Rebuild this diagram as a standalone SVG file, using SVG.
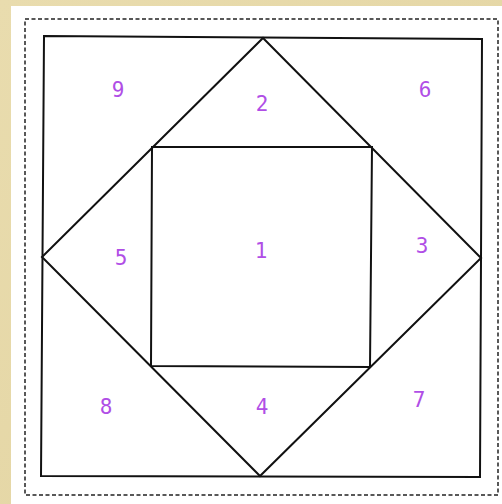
<svg xmlns="http://www.w3.org/2000/svg" width="502" height="504" viewBox="0 0 502 504">
<style>
.ln{fill:none;stroke:#111;stroke-width:2;stroke-linejoin:miter}
.lb{font-family:"DejaVu Sans Mono",monospace;font-size:21px;fill:#b04ee6;text-anchor:middle}
</style>
<defs>
<linearGradient id="bg" x1="0" y1="0" x2="1" y2="1">
<stop offset="0" stop-color="#e9dcae"/>
<stop offset="1" stop-color="#e2d3a0"/>
</linearGradient>
</defs>
<rect x="0" y="0" width="502" height="504" fill="url(#bg)"/>
<rect x="11" y="6" width="491" height="498" fill="#fff"/>
<rect x="25" y="19" width="473" height="476" fill="none" stroke="#222" stroke-width="1.5" stroke-dasharray="4,2.5"/>
<g id="outer"><polygon class="ln" points="44,36 482,39 480,477 41,476"/></g>
<g id="diamond"><polygon class="ln" points="263,38 481,258 260,476 42,257"/></g>
<g id="inner"><polygon class="ln" points="152,147 372,147 370,367 151,366"/></g>
<g id="labels">
<text class="lb" x="261" y="258">1</text>
<text class="lb" x="262" y="111">2</text>
<text class="lb" x="422" y="253">3</text>
<text class="lb" x="262" y="414">4</text>
<text class="lb" x="121" y="265">5</text>
<text class="lb" x="425" y="97">6</text>
<text class="lb" x="419" y="407">7</text>
<text class="lb" x="106" y="414">8</text>
<text class="lb" x="118" y="97">9</text>
</g>
</svg>
